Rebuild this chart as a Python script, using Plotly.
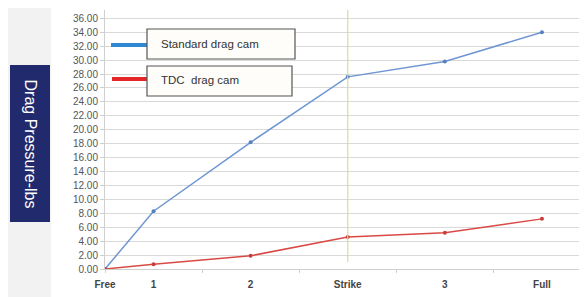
import plotly.graph_objects as go

categories = ["Free", "1", "2", "Strike", "3", "Full"]
cat_pos = [0, 0.5, 1.5, 2.5, 3.5, 4.5]
standard = [0.0, 8.3, 18.2, 27.6, 29.8, 34.0]
tdc = [0.0, 0.7, 1.9, 4.6, 5.2, 7.2]
y_ticks = [i * 2 for i in range(19)]
y_tick_labels = [f"{v:.2f}" for v in y_ticks]

# page body has an 8px margin; work in page pixel coordinates
OFF = 8
W, H = 587 - OFF, 297 - OFF
L, R, T, B = 105 - OFF, 0, 10 - OFF, 28
PW, PH = W - L - R, H - T - B

def px(x):
    return (x - OFF - L) / PW

def py(y):
    return (H - B - (y - OFF)) / PH

fig = go.Figure()
fig.add_trace(go.Scatter(x=cat_pos, y=standard, mode="lines+markers", name="Standard drag cam",
                         line=dict(color="#6f96d2", width=1.5), marker=dict(size=4, color="#5580c4")))
fig.add_trace(go.Scatter(x=cat_pos, y=tdc, mode="lines+markers", name="TDC  drag cam",
                         line=dict(color="#d94a46", width=1.5), marker=dict(size=4, color="#c83c3a")))

shapes = [
    dict(type="rect", xref="paper", yref="paper", x0=px(0), x1=px(51), y0=py(H + OFF + 5), y1=py(0),
         fillcolor="#f2f2f2", line=dict(width=0), layer="below"),
    dict(type="rect", xref="paper", yref="paper", x0=px(10), x1=px(50), y0=py(222), y1=py(65),
         fillcolor="#212a6c", line=dict(width=0)),
    dict(type="line", xref="x", yref="y", x0=2.5, x1=2.5, y0=1.0, y1=37.2,
         line=dict(color="#d6dc94", width=1.2)),
    dict(type="line", xref="paper", yref="paper", x0=px(111), x1=px(148), y0=py(45), y1=py(45),
         line=dict(color="#2f88d2", width=4)),
    dict(type="line", xref="paper", yref="paper", x0=px(112), x1=px(148), y0=py(79), y1=py(79),
         line=dict(color="#e4262a", width=4)),
    dict(type="rect", xref="paper", yref="paper", x0=px(147), x1=px(295), y0=py(59), y1=py(29),
         fillcolor="#fefdfa", line=dict(color="#555555", width=1.2)),
    dict(type="rect", xref="paper", yref="paper", x0=px(147), x1=px(292), y0=py(96), y1=py(66),
         fillcolor="#fefdfa", line=dict(color="#555555", width=1.2)),
]

annotations = [
    dict(text="Drag Pressure-lbs", xref="paper", yref="paper", x=px(30), y=py(143.5),
         xanchor="center", yanchor="middle",
         textangle=90, showarrow=False, font=dict(color="white", size=16, family="Liberation Sans")),
    dict(text="Standard drag cam", xref="paper", yref="paper", x=px(159), y=py(44),
         xanchor="left", yanchor="middle", showarrow=False,
         font=dict(color="#333333", size=11.5, family="Liberation Sans")),
    dict(text="TDC\u00a0 drag cam", xref="paper", yref="paper", x=px(159), y=py(80),
         xanchor="left", yanchor="middle", showarrow=False,
         font=dict(color="#333333", size=11.5, family="Liberation Sans")),
]

fig.update_layout(
    width=W, height=H, margin=dict(l=L, r=R, t=T, b=B),
    paper_bgcolor="white", plot_bgcolor="white", showlegend=False,
    shapes=shapes, annotations=annotations,
    font=dict(family="Liberation Sans", color="#555555"),
    xaxis=dict(range=[0, PW / 97.1], tickvals=cat_pos, ticktext=[f"<b>{c}</b>" for c in categories],
               showgrid=False, zeroline=False, showline=True, linecolor="#cfcfcf",
               ticks="", ticklabelstandoff=6, tickfont=dict(size=10, color="#444444"),
               minor=dict(tick0=1, dtick=1, ticks="outside", ticklen=3, tickcolor="#cfcfcf")),
    yaxis=dict(range=[0, 37.2], tickvals=y_ticks, ticktext=y_tick_labels,
               showgrid=True, gridcolor="#d9d9d9", gridwidth=1, zeroline=False,
               showline=True, linecolor="#cfcfcf", ticks="outside", ticklen=4, tickcolor="#cfcfcf",
               tickfont=dict(size=10, color="#555555")),
)

fig.write_html("out.html")
